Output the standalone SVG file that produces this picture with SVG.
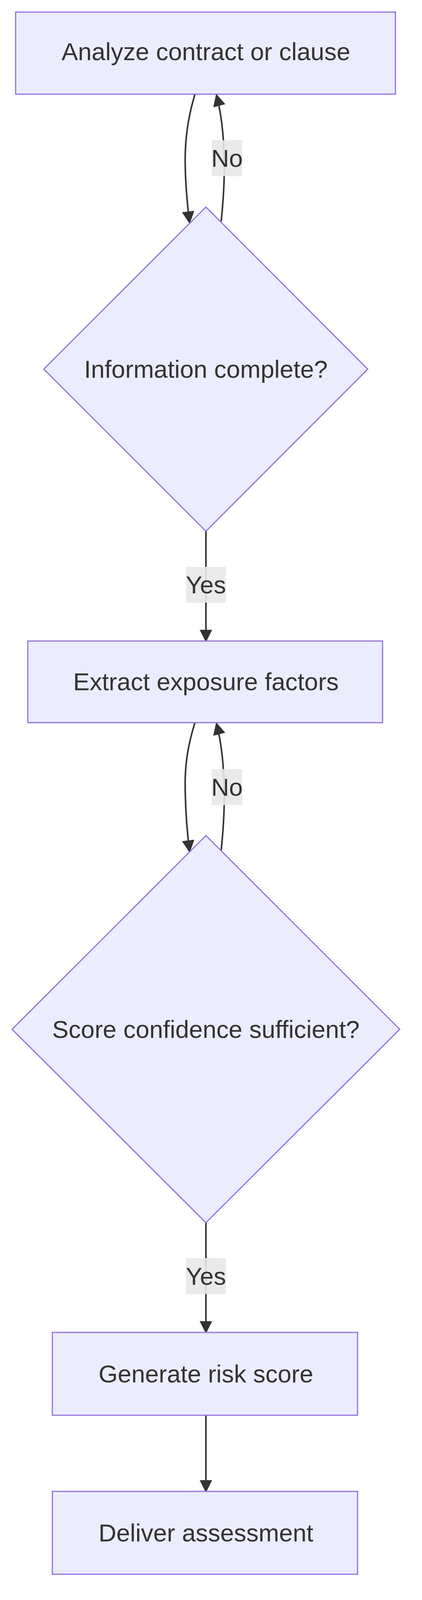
<svg xmlns="http://www.w3.org/2000/svg" width="1080" height="4180" viewBox="0 0 1080 4180">
<style>
.n{fill:#ECECFF;stroke:#9370DB;stroke-width:3}
.t{font-family:"Liberation Sans",Arial,sans-serif;font-size:63px;fill:#333;text-anchor:middle;dominant-baseline:central}
.e{fill:none;stroke:#333;stroke-width:4;marker-end:url(#b)}
.lb{fill:#e8e8e8;opacity:0.9}
</style>
<defs><marker id="b" viewBox="0 0 10 10" refX="9" refY="5" markerWidth="32" markerHeight="32" markerUnits="userSpaceOnUse" orient="auto"><path d="M0,0 L10,5 L0,10 z" fill="#333"/></marker></defs>
<rect width="1080" height="4180" fill="#fff"/>
<g id="edges">
<path class="e" d="M499,241 Q475,320 474,400 Q473,470 485,570"/>
<path class="e" d="M566,567 Q574,490 574,430 Q574,320 554,243"/>
<path class="e" d="M527,1360 L527,1641"/>
<path class="e" d="M499,1850 Q475,1925 474,1995 Q473,2080 485,2180"/>
<path class="e" d="M566,2177 Q574,2100 574,2040 Q574,1930 554,1852"/>
<path class="e" d="M527,3130 L527,3411"/>
<path class="e" d="M527,3623 L527,3818"/>
<rect class="lb" x="542" y="359" width="78" height="92"/><text class="t" x="581" y="405">No</text>
<rect class="lb" x="542" y="1969" width="78" height="92"/><text class="t" x="581" y="2015">No</text>
<rect class="lb" x="476" y="1451" width="102" height="92"/><text class="t" x="527" y="1497">Yes</text>
<rect class="lb" x="476" y="3221" width="102" height="92"/><text class="t" x="527" y="3267">Yes</text>
</g>
<g id="n1"><rect class="n" x="40" y="31" width="972" height="210"/><text class="t" x="527" y="132">Analyze contract or clause</text></g>
<g id="n2"><polygon class="n" points="527,530 941,945 527,1360 112,945"/><text class="t" x="527" y="945">Information complete?</text></g>
<g id="n3"><rect class="n" x="71" y="1641" width="908" height="209"/><text class="t" x="527" y="1745">Extract exposure factors</text></g>
<g id="n4"><polygon class="n" points="527,2139 1023,2635 527,3130 31,2635"/><text class="t" x="527" y="2635">Score confidence sufficient?</text></g>
<g id="n5"><rect class="n" x="134" y="3411" width="781" height="212"/><text class="t" x="527" y="3517">Generate risk score</text></g>
<g id="n6"><rect class="n" x="134" y="3818" width="781" height="212"/><text class="t" x="527" y="3924">Deliver assessment</text></g>
</svg>
